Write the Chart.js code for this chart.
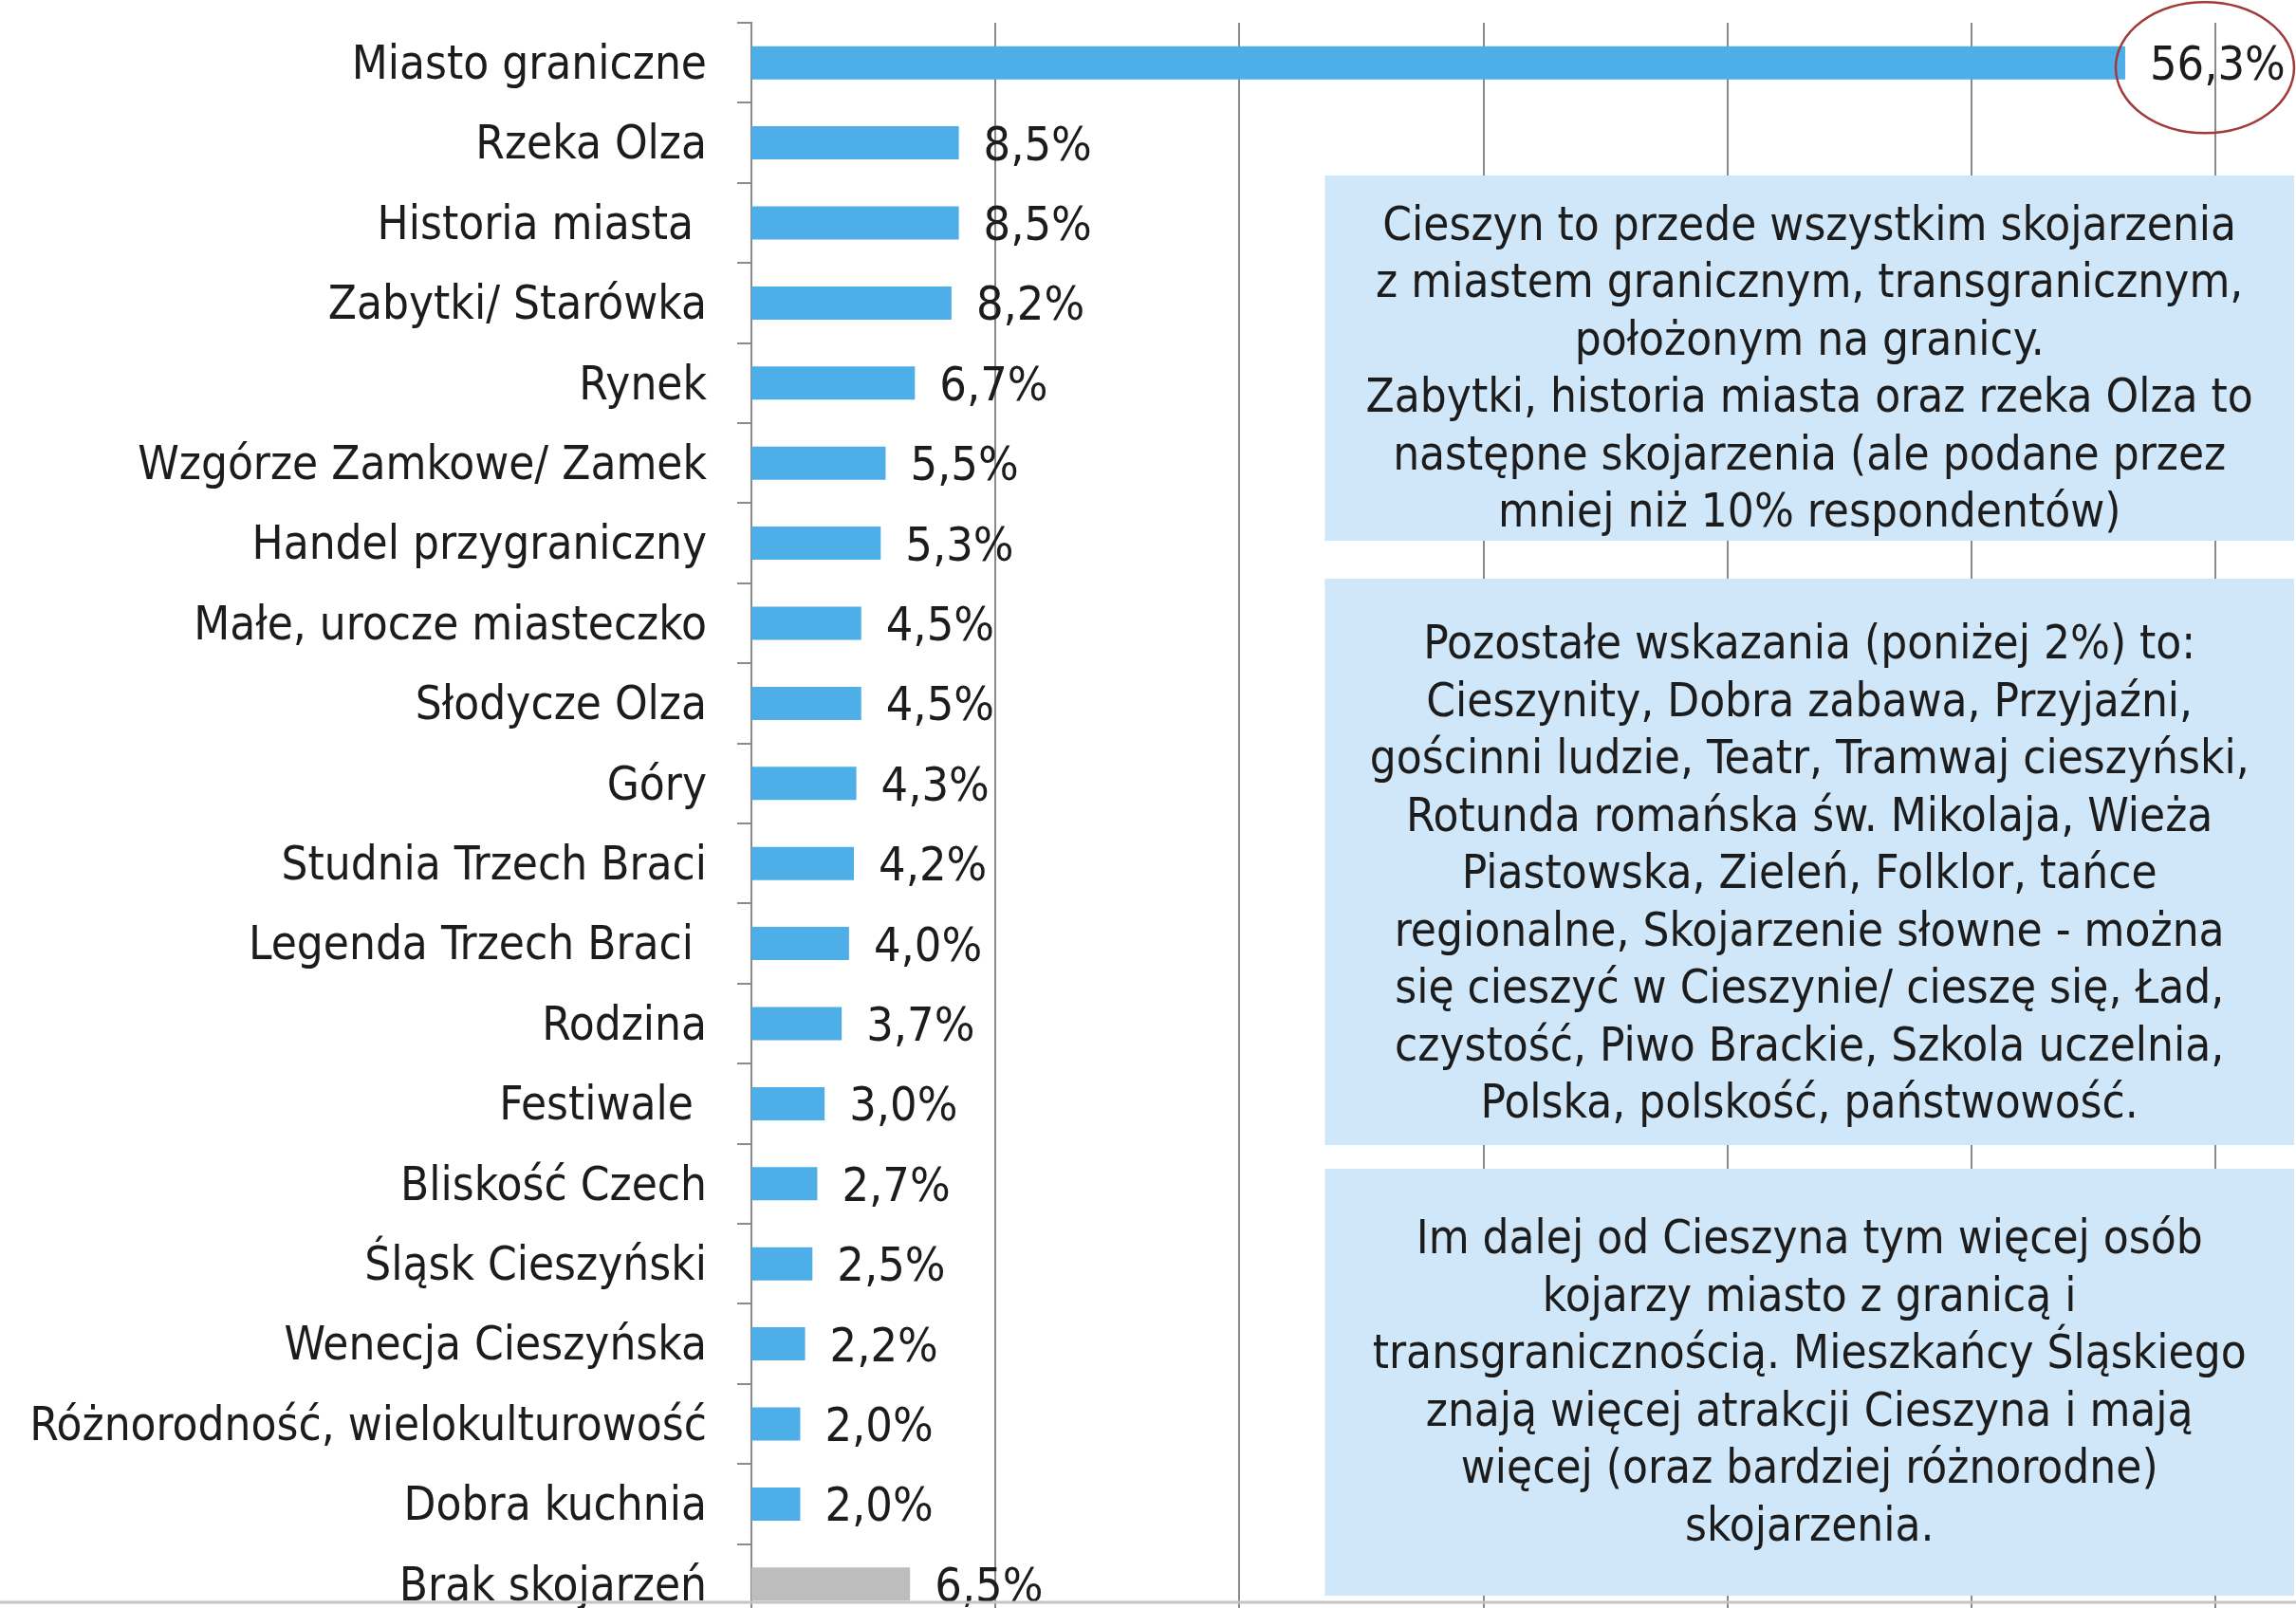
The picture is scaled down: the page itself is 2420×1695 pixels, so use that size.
<!DOCTYPE html>
<html>
<head>
<meta charset="utf-8">
<script src="https://cdn.jsdelivr.net/npm/chart.js@4.4.1/dist/chart.umd.min.js"></script>
<style>
    html, body { margin: 0; padding: 0; background: #ffffff; overflow: hidden; }
    #wrap { width: 2420px; height: 1695px; overflow: hidden; }
    canvas { display: block; }
</style>
</head>
<body>
<div id="wrap"><canvas id="chart" width="2420" height="1712"></canvas></div>
<script>
// Dane
const categories = [
    'Miasto graniczne', 'Rzeka Olza', 'Historia miasta ', 'Zabytki/ Starówka', 'Rynek',
    'Wzgórze Zamkowe/ Zamek', 'Handel przygraniczny', 'Małe, urocze miasteczko', 'Słodycze Olza', 'Góry',
    'Studnia Trzech Braci', 'Legenda Trzech Braci ', 'Rodzina', 'Festiwale ', 'Bliskość Czech',
    'Śląsk Cieszyński', 'Wenecja Cieszyńska', 'Różnorodność, wielokulturowość', 'Dobra kuchnia', 'Brak skojarzeń'
];
const values = [56.3, 8.5, 8.5, 8.2, 6.7, 5.5, 5.3, 4.5, 4.5, 4.3, 4.2, 4.0, 3.7, 3.0, 2.7, 2.5, 2.2, 2.0, 2.0, 6.5];
const xTicks = [10, 20, 30, 40, 50, 60];

const note1 = [
    'Cieszyn to przede wszystkim skojarzenia',
    'z miastem granicznym, transgranicznym,',
    'położonym na granicy.',
    'Zabytki, historia miasta oraz rzeka Olza to',
    'następne skojarzenia (ale podane przez',
    'mniej niż 10% respondentów)'
];
const note2 = [
    'Pozostałe wskazania (poniżej 2%) to:',
    'Cieszynity, Dobra zabawa, Przyjaźni,',
    'gościnni ludzie, Teatr, Tramwaj cieszyński,',
    'Rotunda romańska św. Mikolaja, Wieża',
    'Piastowska, Zieleń, Folklor, tańce',
    'regionalne, Skojarzenie słowne - można',
    'się cieszyć w Cieszynie/ cieszę się, Ład,',
    'czystość, Piwo Brackie, Szkola uczelnia,',
    'Polska, polskość, państwowość.'
];
const note3 = [
    'Im dalej od Cieszyna tym więcej osób',
    'kojarzy miasto z granicą i',
    'transgranicznością. Mieszkańcy Śląskiego',
    'znają więcej atrakcji Cieszyna i mają',
    'więcej (oraz bardziej różnorodne)',
    'skojarzenia.'
];

const FONT = "'DejaVu Sans Condensed', 'DejaVu Sans', sans-serif";
const TEXT = '#1c1c1c';
const BLUE = '#4eaee8';
const GREY = '#bdbdbd';
const GRID = '#8a8a8a';
const NOTE_BG = '#cfe7f8';

const fmt = v => v.toFixed(1).replace('.', ',') + '%';

// Ramki z komentarzem (pozycje w pikselach od góry obszaru wykresu)
const notes = [
    { lines: note1, top: 161, bottom: 546, shift: 14 },
    { lines: note2, top: 586, bottom: 1183, shift: 15 },
    { lines: note3, top: 1208, bottom: 1658, shift: 3 }
];

const notesPlugin = {
    id: 'notes',
    beforeDatasetsDraw(chart) {
        const { ctx, chartArea } = chart;
        const left = chart.scales.x.getPixelForValue(23.5);
        const right = chartArea.right - 2;
        ctx.save();
        ctx.font = `49px ${FONT}`;
        notes.forEach(n => {
            ctx.fillStyle = NOTE_BG;
            ctx.fillRect(left, chartArea.top + n.top, right - left, n.bottom - n.top);
            ctx.fillStyle = TEXT;
            ctx.textAlign = 'center';
            ctx.textBaseline = 'middle';
            const cx = (left + right) / 2;
            const cy = chartArea.top + (n.top + n.bottom) / 2 + n.shift;
            const lh = 60.5;
            n.lines.forEach((line, i) => {
                ctx.fillText(line, cx, cy + (i - (n.lines.length - 1) / 2) * lh);
            });
        });
        ctx.restore();
    }
};

const valueLabels = {
    id: 'valueLabels',
    afterDatasetsDraw(chart) {
        const { ctx } = chart;
        const meta = chart.getDatasetMeta(0);
        ctx.save();
        ctx.font = `50px ${FONT}`;
        ctx.fillStyle = TEXT;
        ctx.textAlign = 'left';
        ctx.textBaseline = 'middle';
        meta.data.forEach((bar, i) => {
            ctx.fillText(fmt(values[i]), bar.x + 26, bar.y + 5);
        });
        ctx.restore();
    }
};

const extras = {
    id: 'extras',
    afterDraw(chart) {
        const { ctx, chartArea } = chart;
        const first = chart.getDatasetMeta(0).data[0];
        ctx.save();
        // czerwona elipsa wokół najwyższej wartości
        ctx.strokeStyle = '#a23a3a';
        ctx.lineWidth = 2.5;
        ctx.beginPath();
        ctx.ellipse(first.x + 84, first.y + 5, 94, 69, 0, 0, Math.PI * 2);
        ctx.stroke();
        // szara linia na dole
        ctx.strokeStyle = '#c4c4c4';
        ctx.lineWidth = 3;
        ctx.beginPath();
        ctx.moveTo(0, chartArea.bottom - 23);
        ctx.lineTo(chart.width, chartArea.bottom - 23);
        ctx.stroke();
        ctx.restore();
    }
};

new Chart(document.getElementById('chart'), {
    type: 'bar',
    data: {
        labels: categories,
        datasets: [{
            data: values,
            backgroundColor: categories.map((_, i) => i === categories.length - 1 ? GREY : BLUE),
            borderWidth: 0,
            barPercentage: 0.415,
            categoryPercentage: 1
        }]
    },
    options: {
        indexAxis: 'y',
        responsive: false,
        animation: false,
        devicePixelRatio: 1,
        layout: { padding: { top: 24, left: 0, right: 0, bottom: 0 } },
        plugins: {
            legend: { display: false },
            tooltip: { enabled: false },
            title: { display: false }
        },
        scales: {
            x: {
                min: 0,
                max: 63.3,
                grid: { color: GRID, lineWidth: 2, drawTicks: false },
                border: { display: false },
                ticks: { display: false, stepSize: 10 },
                afterBuildTicks: s => { s.ticks = xTicks.map(v => ({ value: v })); },
                afterFit: s => { s.height = 0; s.paddingLeft = 0; s.paddingRight = 0; }
            },
            y: {
                grid: { drawOnChartArea: false, drawTicks: true, tickLength: 15, color: GRID, lineWidth: 2, offset: true },
                border: { color: GRID, width: 2 },
                ticks: { padding: 32, labelOffset: 4, color: TEXT, font: { family: FONT, size: 49 }, autoSkip: false },
                afterFit: s => { s.width = 792; s.paddingTop = 0; s.paddingBottom = 0; }
            }
        }
    },
    plugins: [notesPlugin, valueLabels, extras]
});
</script>
</body>
</html>
